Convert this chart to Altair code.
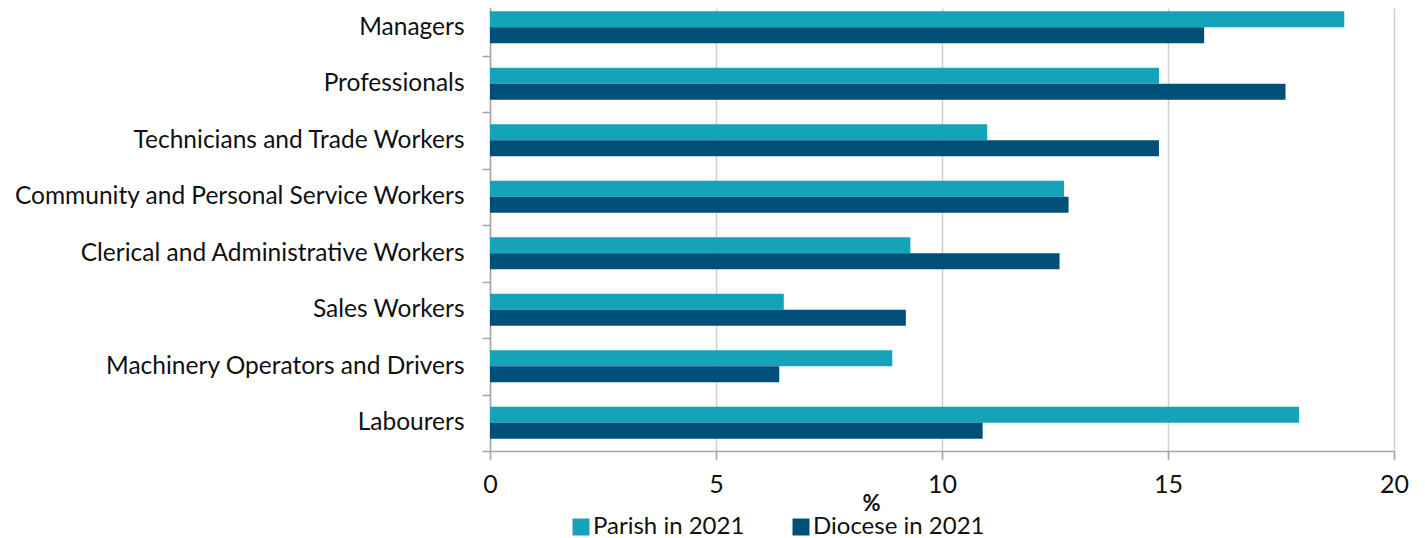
import altair as alt
import pandas as pd

categories = [
    "Managers",
    "Professionals",
    "Technicians and Trade Workers",
    "Community and Personal Service Workers",
    "Clerical and Administrative Workers",
    "Sales Workers",
    "Machinery Operators and Drivers",
    "Labourers",
]
series = ["Parish in 2021", "Diocese in 2021"]
parish = [18.9, 14.8, 11.0, 12.7, 9.3, 6.5, 8.9, 17.9]
diocese = [15.8, 17.6, 14.8, 12.8, 12.6, 9.2, 6.4, 10.9]
x_ticks = [0, 5, 10, 15, 20]
colors = ["#14A3B8", "#004F79"]

rows = []
for c, p, d in zip(categories, parish, diocese):
    rows.append({"cat": c, "series": series[0], "value": p})
    rows.append({"cat": c, "series": series[1], "value": d})
df = pd.DataFrame(rows)

FONT = "Lato"

chart = (
    alt.Chart(df)
    .mark_bar()
    .encode(
        x=alt.X(
            "value:Q",
            scale=alt.Scale(domain=[0, 20], nice=False),
            axis=alt.Axis(
                values=x_ticks,
                title="%",
                grid=True,
                gridColor="#d0d0d0",
                gridWidth=1.5,
                domainColor="#a6a6a6",
                domainWidth=1.5,
                tickColor="#a6a6a6",
                tickWidth=1.5,
                tickSize=8,
                labelFont=FONT,
                labelFontSize=25,
                labelColor="#111111",
                labelBaseline="middle",
                labelPadding=25,
                labelFlush=False,
                titleFont=FONT,
                titleFontSize=22,
                titleFontWeight="bold",
                titleColor="#111111",
                titleX=381,
                titleY=52,
                titleAlign="center",
                titleBaseline="middle",
            ),
        ),
        y=alt.Y(
            "cat:N",
            sort=categories,
            scale=alt.Scale(range=[-9, 443], paddingInner=0, paddingOuter=0),
            axis=alt.Axis(
                title=None,
                tickBand="extent",
                grid=False,
                domainColor="#a6a6a6",
                domainWidth=1.5,
                tickColor="#a6a6a6",
                tickWidth=1.5,
                tickSize=8,
                labelFont=FONT,
                labelFontSize=24.5,
                labelColor="#111111",
                labelPadding=18,
                labelLimit=0,
            ),
        ),
        yOffset=alt.YOffset(
            "series:N",
            sort=series,
            scale=alt.Scale(paddingInner=0, paddingOuter=0.766),
        ),
        color=alt.Color(
            "series:N",
            sort=series,
            scale=alt.Scale(domain=series, range=colors),
            legend=alt.Legend(
                title=None,
                orient="none",
                direction="horizontal",
                legendX=79,
                legendY=507,
                padding=0,
                symbolType="square",
                symbolSize=289,
                symbolStrokeWidth=0,
                symbolOpacity=1,
                labelFont=FONT,
                labelFontSize=24,
                labelColor="#111111",
                labelOffset=0,
                labelLimit=0,
                columnPadding=44,
            ),
        ),
    )
    .properties(
        width=904,
        height=443,
        autosize=alt.AutoSizeParams(type="none"),
        padding={"left": 482, "top": 0, "right": 20, "bottom": 87},
    )
    .configure_view(stroke=None)
)

chart.save("out.html", embed_options={"renderer": "svg", "actions": False})
